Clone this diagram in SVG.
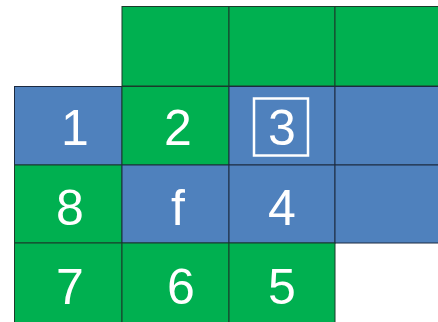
<svg xmlns="http://www.w3.org/2000/svg" width="438" height="322" viewBox="0 0 438 322">
<style>
.g{fill:#00B050;stroke:#1a3a2a;stroke-width:1}
.b{fill:#4F81BD;stroke:#1c2a40;stroke-width:1}
.t{font-family:"Liberation Sans",Arial,sans-serif;font-size:50px;fill:#ffffff;text-anchor:middle}
</style>
<rect width="438" height="322" fill="#ffffff"/>
<g id="r0c1"><rect class="g" x="122" y="6.5" width="107" height="79.5"/></g>
<g id="r0c2"><rect class="g" x="229" y="6.5" width="106" height="79.5"/></g>
<g id="r0c3"><rect class="g" x="335" y="6.5" width="106" height="79.5"/></g>
<g id="n1"><rect class="b" x="14.5" y="86.5" width="107.5" height="78.5"/><text class="t" x="75" y="145">1</text></g>
<g id="n2"><rect class="g" x="122" y="86.5" width="107" height="78.5"/><text class="t" x="178" y="145">2</text></g>
<g id="n3"><rect class="b" x="229" y="86.5" width="106" height="78.5"/><rect x="254" y="98.5" width="54" height="57" fill="none" stroke="#ffffff" stroke-width="2.5"/><text class="t" x="282" y="145">3</text></g>
<g id="r1c3"><rect class="b" x="335" y="86.5" width="106" height="78.5"/></g>
<g id="n8"><rect class="g" x="14.5" y="165" width="107.5" height="78"/><text class="t" x="70" y="225">8</text></g>
<g id="nf"><rect class="b" x="122" y="165" width="107" height="78"/><text class="t" x="178" y="225">f</text></g>
<g id="n4"><rect class="b" x="229" y="165" width="106" height="78"/><text class="t" x="282" y="225">4</text></g>
<g id="r2c3"><rect class="b" x="335" y="165" width="106" height="78"/></g>
<g id="n7"><rect class="g" x="14.5" y="243" width="107.5" height="81"/><text class="t" x="70" y="304">7</text></g>
<g id="n6"><rect class="g" x="122" y="243" width="107" height="81"/><text class="t" x="181" y="304">6</text></g>
<g id="n5"><rect class="g" x="229" y="243" width="106" height="81"/><text class="t" x="282" y="304">5</text></g>
<g id="connectors"/>
</svg>
